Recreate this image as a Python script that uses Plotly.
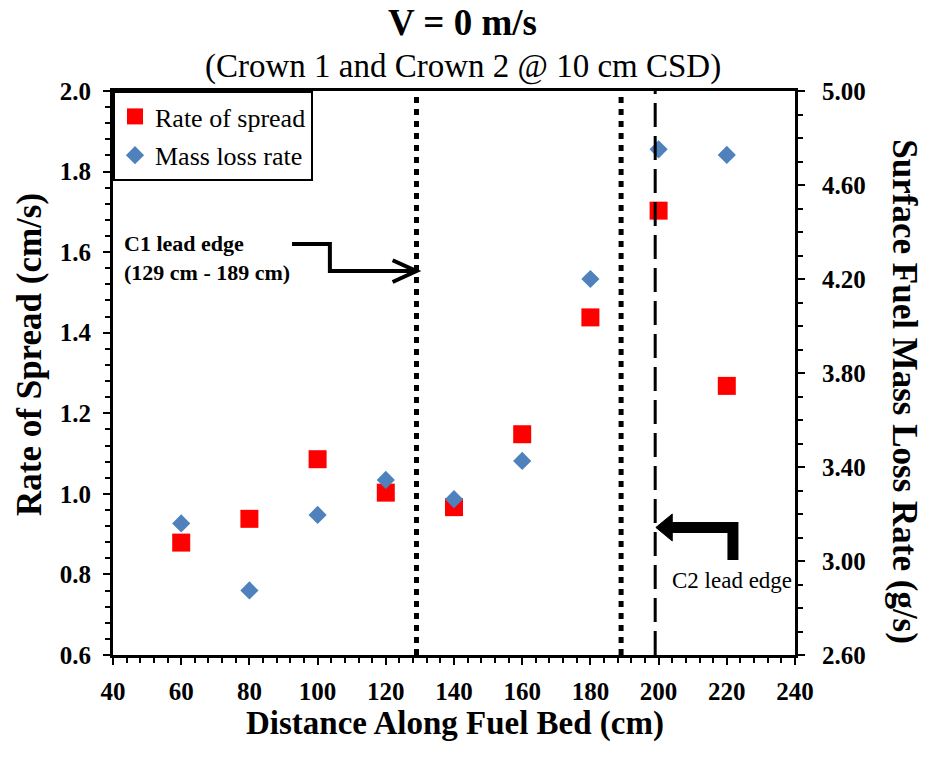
import plotly.graph_objects as go

# ---- data ----
distance = [60, 80, 100, 120, 140, 160, 180, 200, 220]
rate_of_spread = [0.879, 0.938, 1.086, 1.003, 0.967, 1.148, 1.438, 1.703, 1.268]
mass_loss_rate = [3.16, 2.875, 3.196, 3.345, 3.263, 3.426, 4.20, 4.752, 4.728]
c1_lead_edges = [129, 189]
c2_lead_edge = [199]

FONT = "Liberation Serif"
RED = "#FF0000"
BLUE = "#4F81BD"

fig = go.Figure()
fig.add_trace(go.Scatter(
    x=distance, y=rate_of_spread, mode="markers", name="Rate of spread",
    legendgroup="a",
    marker=dict(symbol="square", size=18, color=RED, line=dict(width=0)),
    yaxis="y"))
fig.add_trace(go.Scatter(
    x=distance, y=mass_loss_rate, mode="markers", name="Mass loss rate",
    legendgroup="b",
    marker=dict(symbol="diamond", size=14, color=BLUE, line=dict(width=0)),
    yaxis="y2"))

shapes = []
for xv in c1_lead_edges:
    shapes.append(dict(type="line", xref="x", yref="paper", x0=xv, x1=xv, y0=0, y1=1,
                       line=dict(color="black", width=5, dash="6px,6px"), layer="above"))
for xv in c2_lead_edge:
    shapes.append(dict(type="line", xref="x", yref="paper", x0=xv, x1=xv, y0=0, y1=1,
                       line=dict(color="black", width=3, dash="24px,9px"), layer="above"))

# C1 elbow arrow
tip1 = c1_lead_edges[0]
shapes.append(dict(type="path", xref="x", yref="y",
                   path=f"M 92.5,1.620 L 103.6,1.620 L 103.6,1.553 L {tip1},1.553",
                   line=dict(color="black", width=4)))
shapes.append(dict(type="path", xref="x", yref="y",
                   path=f"M {tip1-7},1.580 L {tip1},1.553 L {tip1-7},1.526",
                   line=dict(color="black", width=4)))
# C2 thick elbow arrow
tip2 = c2_lead_edge[0] + 0.2
shapes.append(dict(type="path", xref="x", yref="y",
                   path="M 221.8,0.836 L 221.8,0.9166 L 203.8,0.9166",
                   line=dict(color="black", width=11)))
shapes.append(dict(type="path", xref="x", yref="y",
                   path=f"M 204.0,0.950 L {tip2},0.9166 L 204.0,0.883 Z",
                   fillcolor="black", line=dict(color="black", width=1)))

annotations = [
    dict(text="<b>V = 0 m/s</b>", xref="paper", yref="paper", x=0.513, y=1.122,
         xanchor="center", yanchor="middle", showarrow=False,
         font=dict(family=FONT, size=37, color="black")),
    dict(text="(Crown 1 and Crown 2 @ 10 cm CSD)", xref="paper", yref="paper", x=0.513, y=1.044,
         xanchor="center", yanchor="middle", showarrow=False,
         font=dict(family=FONT, size=33, color="black")),
    dict(text="<b>Rate of Spread (cm/s)</b>", xref="paper", yref="paper", x=-0.1217, y=0.532,
         xanchor="center", yanchor="middle", textangle=-90, showarrow=False,
         font=dict(family=FONT, size=35, color="black")),
    dict(text="<b>Surface Fuel Mass Loss Rate (g/s)</b>", xref="paper", yref="paper", x=1.161, y=0.466,
         xanchor="center", yanchor="middle", textangle=90, showarrow=False,
         font=dict(family=FONT, size=35, color="black")),
    dict(text="<b>Distance Along Fuel Bed (cm)</b>", xref="paper", yref="paper", x=0.501, y=-0.121,
         xanchor="center", yanchor="middle", showarrow=False,
         font=dict(family=FONT, size=33, color="black")),
    dict(text="<b>C1 lead edge<br>(129 cm - 189 cm)</b>", xref="x", yref="y", x=42.6, y=1.586,
         xanchor="left", yanchor="middle", align="left", showarrow=False,
         font=dict(family=FONT, size=22, color="black")),
    dict(text="C2 lead edge", xref="x", yref="y", x=203.2, y=0.786,
         xanchor="left", yanchor="middle", showarrow=False,
         font=dict(family=FONT, size=23, color="black")),
]

tickfont = dict(family=FONT, size=25, color="black", weight="bold")

fig.update_layout(
    width=926, height=759,
    margin=dict(l=113, r=131, t=91, b=104),
    paper_bgcolor="white", plot_bgcolor="white",
    showlegend=True,
    legend=dict(x=0, y=1, xanchor="left", yanchor="top",
                bgcolor="white", bordercolor="black", borderwidth=2,
                font=dict(family=FONT, size=26, color="black"),
                tracegroupgap=2, itemsizing="trace"),
    xaxis=dict(range=[40, 240], dtick=20, tick0=40, showgrid=False, zeroline=False,
               showline=True, linecolor="black", linewidth=3, mirror=True,
               ticks="outside", ticklen=7, tickwidth=2, tickcolor="black",
               ticklabelstandoff=5, tickfont=tickfont,
               minor=dict(dtick=4, tick0=40, ticks="outside", ticklen=5, tickwidth=2, tickcolor="black")),
    yaxis=dict(range=[0.6, 2.0], dtick=0.2, tick0=0.6, tickformat=".1f", showgrid=False, zeroline=False,
               showline=True, linecolor="black", linewidth=3,
               ticks="outside", ticklen=7, tickwidth=2, tickcolor="black",
               ticklabelstandoff=7, tickfont=tickfont,
               minor=dict(dtick=0.04, tick0=0.6, ticks="outside", ticklen=5, tickwidth=2, tickcolor="black")),
    yaxis2=dict(range=[2.6, 5.0], dtick=0.4, tick0=2.6, tickformat=".2f", overlaying="y", side="right",
                showgrid=False, zeroline=False,
                showline=True, linecolor="black", linewidth=3,
                ticks="outside", ticklen=7, tickwidth=2, tickcolor="black",
                ticklabelstandoff=12, tickfont=tickfont,
                minor=dict(dtick=0.1, tick0=2.6, ticks="outside", ticklen=5, tickwidth=2, tickcolor="black")),
    shapes=shapes,
    annotations=annotations,
)

fig.write_html("out.html")
